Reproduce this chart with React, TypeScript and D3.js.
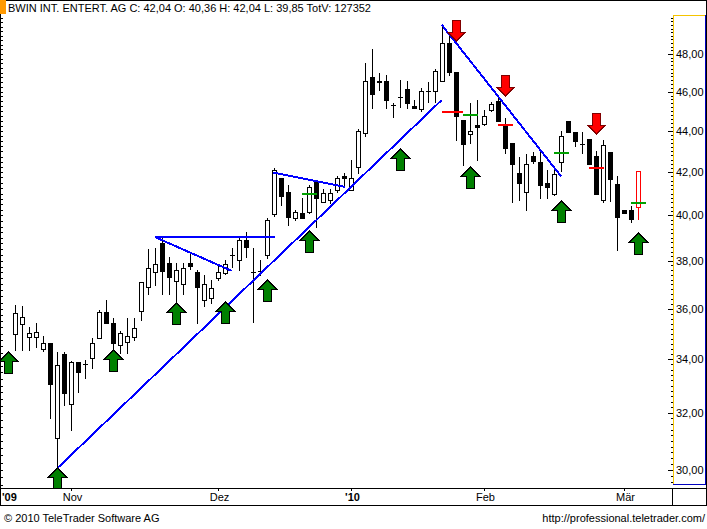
import React from "react";
import * as d3 from "d3";

// ---- DATA (daily OHLC, BWIN Int. Entert. AG, Oct 2009 - Mar 2010) ----
const opens = [
  34.98, 35.38, 34.86, 34.86, 34.39, 34.62, 31.1, 34.2, 32.32, 33.89,
  33.81, 34.04, 34.82, 35.86, 35.42, 34.55, 34.66, 34.86, 35.9, 36.89,
  37.52, 38.77, 37.9, 37.15, 37.02, 37.9, 37.52, 36.35, 36.43, 37.26,
  37.48, 38.25, 38.03, 38.9, 37.52, 37.57, 38.25, 40.06, 41.72, 41.07,
  39.88, 40.1, 40.15, 41.52, 40.61, 40.7, 41.16, 41.81, 41.16, 42.24,
  43.9, 46.77, 46.55, 46.56, 45.31, 45.73, 46.14, 45.26, 45.1, 46.05,
  46.03, 46.56, 48.6, 47.04, 44.55, 43.85, 44.3, 44.35, 45.06, 45.52,
  44.3, 43.4, 41.96, 41.07, 42.77, 42.49, 41.49, 40.98, 42.49, 44.5,
  43.94, 43.36, 43.6, 42.77, 40.7, 42.97, 41.44, 40.24, 40.24, 40.36,
];
const highs = [
  36.14, 36.1, 35.26, 35.42, 34.9, 34.62, 34.27, 34.27, 33.93, 33.89,
  33.97, 34.82, 35.94, 36.35, 35.62, 35.1, 35.62, 35.62, 37.1, 38.51,
  38.55, 39.03, 38.16, 37.9, 37.9, 38.33, 37.6, 37.39, 37.18, 37.82,
  38.03, 38.55, 38.99, 39.25, 38.55, 38.03, 39.88, 42.19, 41.72, 41.39,
  40.24, 40.79, 41.39, 41.58, 41.2, 41.2, 41.81, 41.96, 42.58, 44.12,
  47.52, 48.27, 46.98, 46.87, 45.42, 46.61, 46.56, 45.57, 46.19, 46.5,
  47.2, 49.5, 48.99, 47.04, 44.55, 45.42, 45.57, 45.06, 45.47, 45.67,
  44.65, 43.4, 42.72, 42.87, 42.97, 43.06, 42.1, 42.1, 43.98, 44.5,
  43.94, 43.94, 43.6, 43.02, 43.55, 42.97, 41.81, 40.24, 40.42, 42.04,
];
const lows = [
  34.35, 34.35, 34.35, 34.47, 34.31, 31.81, 30.05, 32.28, 31.38, 32.76,
  33.28, 33.66, 34.82, 35.42, 34.24, 34.24, 34.24, 34.74, 35.54, 36.6,
  36.97, 36.6, 36.6, 36.06, 36.6, 37.64, 35.42, 36.1, 36.22, 37.18,
  37.43, 37.73, 37.6, 38.16, 35.46, 37.39, 38.12, 39.97, 40.47, 39.56,
  39.79, 39.88, 40.1, 39.47, 40.61, 40.58, 41.07, 41.3, 41.16, 41.96,
  43.77, 45.16, 46.09, 45.16, 44.71, 45.21, 45.16, 45.16, 44.99, 45.47,
  45.47, 46.56, 46.87, 43.55, 42.34, 43.4, 42.58, 44.3, 45.0, 44.5,
  42.92, 40.61, 40.7, 40.24, 42.44, 40.79, 40.79, 40.93, 42.06, 43.94,
  43.27, 42.92, 42.39, 40.98, 40.61, 40.65, 38.46, 40.1, 39.7, 39.85,
];
const closes = [
  35.82, 35.66, 35.02, 35.06, 34.62, 33.06, 33.77, 32.72, 33.89, 33.51,
  33.81, 34.62, 35.86, 35.42, 34.62, 35.02, 34.9, 35.22, 37.1, 37.69,
  37.86, 37.57, 37.3, 37.6, 37.69, 37.78, 36.89, 37.02, 36.85, 37.52,
  37.86, 38.25, 38.9, 38.59, 37.52, 37.57, 39.79, 42.1, 40.88, 39.92,
  40.15, 39.88, 41.3, 40.79, 41.01, 41.03, 41.72, 41.72, 41.72, 44.0,
  46.56, 45.88, 46.5, 45.57, 45.31, 45.73, 45.42, 45.16, 46.03, 46.05,
  47.09, 48.6, 47.04, 44.75, 43.36, 44.0, 44.2, 44.77, 45.36, 44.5,
  43.16, 42.39, 41.49, 42.39, 42.53, 41.39, 41.3, 41.91, 43.73, 43.94,
  43.5, 43.36, 42.39, 40.98, 43.31, 41.67, 39.92, 40.1, 39.83, 42.04,
];

const monthLabels = ["Nov", "Dez", "'10", "Feb", "Mär"];
const monthStartIndex = [8, 29, 48, 67, 87];
const boldLabels = ["'10"];
const yearLabel = "'09";

const priceTicks = [30, 32, 34, 36, 38, 40, 42, 44, 46, 48];

const titleText =
  "BWIN INT. ENTERT. AG C: 42,04 O: 40,36 H: 42,04 L: 39,85 TotV: 127352";
const footerLeft = "© 2010 TeleTrader Software AG";
const footerRight = "http://professional.teletrader.com/";

// trend lines: [startIndex, startPrice, endIndex, endPrice]
const trendStartIndex = [6, 20, 20, 36.9, 60.96];
const trendStartPrice = [30.05, 39.03, 39.03, 41.98, 49.61];
const trendEndIndex = [60.96, 37.14, 30.95, 47.14, 78.0];
const trendEndPrice = [45.57, 39.03, 37.57, 41.31, 41.81];

// signal arrows (index, price at tip)
const upArrowIndex = [-1, 6, 14, 23, 30, 36, 42, 55, 65, 78, 89];
const upArrowPrice = [34.27, 30.06, 34.35, 36.22, 36.26, 37.18, 39.3, 43.11, 42.24, 40.65, 39.21];
const downArrowIndex = [63, 70, 83];
const downArrowPrice = [48.71, 45.77, 43.85];

// horizontal level marks
const greenFrom = [41, 64, 77, 88];
const greenTo = [43.14, 66.14, 79.14, 90.14];
const greenPrice = [40.98, 44.8, 42.92, 40.56];
const redFrom = [60.96, 69, 82];
const redTo = [64.04, 71.14, 84.14];
const redPrice = [44.96, 44.3, 42.21];

const FONT = "'Liberation Sans', Arial, Helvetica, sans-serif";

export default function App() {
  const W = 707;
  const H = 529;
  const plotRight = 673;
  const plotBottom = 488;
  const bandBottom = 505;

  const x = d3.scaleLinear().domain([0, 89]).range([15, 638]);
  const y = d3.scaleLog().domain([30, 48]).range([470, 54]);
  const px = (i: number) => Math.round(x(i));
  const py = (p: number) => Math.round(y(p));

  const fmt = (v: number) => v.toFixed(2).replace(".", ",");

  const minorTicks = d3
    .range(29.6, 50.4, 0.2)
    .filter((v) => y(v) > 16 && y(v) < 484);
  const leftTicks = d3
    .range(29.5, 50.5, 0.25)
    .filter((v) => y(v) > 16 && y(v) < 487);

  const candles = d3.range(opens.length).map((i) => ({
    i,
    o: opens[i],
    h: highs[i],
    l: lows[i],
    c: closes[i],
  }));
  const last = candles.length - 1;

  const upPath = (cx: number, ty: number) =>
    `M${cx + 0.5},${ty} L${cx + 9.5},${ty + 9} L${cx + 4.5},${ty + 9} L${cx + 4.5},${ty + 21} L${cx - 3.5},${ty + 21} L${cx - 3.5},${ty + 9} L${cx - 8.5},${ty + 9} Z`;
  const downPath = (cx: number, ty: number) =>
    `M${cx + 0.5},${ty} L${cx + 9.5},${ty - 9} L${cx + 4.5},${ty - 9} L${cx + 4.5},${ty - 21} L${cx - 3.5},${ty - 21} L${cx - 3.5},${ty - 9} L${cx - 8.5},${ty - 9} Z`;

  return (
    <svg
      width={W}
      height={H}
      style={{ position: "absolute", left: 0, top: 0, display: "block", background: "#fff" }}
      fontFamily={FONT}
    >
      <rect x={0} y={0} width={W} height={H} fill="#fff" />
      <defs>
        <clipPath id="plotClip">
          <rect x={1} y={1} width={plotRight - 1} height={plotBottom - 1} />
        </clipPath>
      </defs>

      {/* outer borders */}
      <line x1={0} x2={W} y1={0.5} y2={0.5} stroke="#000" />
      <line x1={706.5} x2={706.5} y1={0} y2={bandBottom} stroke="#000" />
      <line x1={0.5} x2={0.5} y1={0} y2={bandBottom} stroke="#000" />
      <line x1={0} x2={W} y1={plotBottom + 0.5} y2={plotBottom + 0.5} stroke="#000" />
      <line x1={0} x2={W} y1={bandBottom + 0.5} y2={bandBottom + 0.5} stroke="#000" />
      <line x1={plotRight - 0.5} x2={plotRight - 0.5} y1={plotBottom} y2={bandBottom} stroke="#000" />

      {/* title */}
      <rect x={0} y={0} width={6} height={14} fill="#ff9900" />
      <text x={8} y={12} fontSize={11} fill="#000">
        {titleText}
      </text>

      {/* left edge ticks */}
      {leftTicks.map((v, k) => (
        <line key={"lt" + k} x1={0} x2={3} y1={py(v) + 0.5} y2={py(v) + 0.5} stroke="#000" />
      ))}

      {/* right axis panel */}
      <line x1={plotRight + 0.5} x2={plotRight + 0.5} y1={15} y2={485} stroke="#f5c400" />
      <line x1={plotRight} x2={706} y1={15.5} y2={15.5} stroke="#f5c400" />
      <line x1={705.5} x2={705.5} y1={15} y2={485} stroke="#0000c0" />
      <line x1={plotRight} x2={706} y1={484.5} y2={484.5} stroke="#0000c0" />
      {minorTicks.map((v, k) => (
        <line key={"mt" + k} x1={671} x2={673} y1={py(v) + 0.5} y2={py(v) + 0.5} stroke="#000" />
      ))}
      {priceTicks.map((v) => (
        <g key={"pt" + v}>
          <line x1={668} x2={673} y1={py(v) + 0.5} y2={py(v) + 0.5} stroke="#000" />
          <text x={676} y={py(v) + 4} fontSize={11} fill="#000">
            {fmt(v)}
          </text>
        </g>
      ))}

      <g clipPath="url(#plotClip)" shapeRendering="crispEdges">
        {/* candles */}
        {candles.map((d) => {
          const cx = px(d.i);
          const top = py(Math.max(d.o, d.c));
          const bot = py(Math.min(d.o, d.c));
          const up = d.c >= d.o;
          const col = d.i === last ? "#ff0000" : "#000";
          return (
            <g key={"c" + d.i}>
              <line x1={cx + 0.5} x2={cx + 0.5} y1={py(d.h)} y2={py(d.l) + 1} stroke={col} />
              {bot - top < 1 ? (
                <line x1={cx - 2} x2={cx + 3} y1={top + 0.5} y2={top + 0.5} stroke={col} />
              ) : (
                <rect
                  x={cx - 1.5}
                  y={top + 0.5}
                  width={4}
                  height={bot - top}
                  fill={up ? "#fff" : col}
                  stroke={col}
                />
              )}
            </g>
          );
        })}

        {/* level marks */}
        {greenPrice.map((p, k) => (
          <rect
            key={"g" + k}
            x={x(greenFrom[k])}
            y={py(p) - 1}
            width={x(greenTo[k]) - x(greenFrom[k])}
            height={2}
            fill="#00a000"
          />
        ))}
        {redPrice.map((p, k) => (
          <rect
            key={"r" + k}
            x={x(redFrom[k])}
            y={py(p) - 1}
            width={x(redTo[k]) - x(redFrom[k])}
            height={2}
            fill="#ff0000"
          />
        ))}
      </g>

      <g clipPath="url(#plotClip)">
        {/* trend lines */}
        {trendStartIndex.map((i0, k) => (
          <line
            key={"t" + k}
            x1={x(i0)}
            y1={y(trendStartPrice[k])}
            x2={x(trendEndIndex[k])}
            y2={y(trendEndPrice[k])}
            stroke="#0000ff"
            strokeWidth={2}
            shapeRendering="crispEdges"
          />
        ))}

        {/* arrows */}
        {upArrowIndex.map((i, k) => (
          <path
            key={"ua" + k}
            d={upPath(px(i), py(upArrowPrice[k]))}
            fill="#008000"
            stroke="#000"
            strokeWidth={1}
            shapeRendering="crispEdges"
          />
        ))}
        {downArrowIndex.map((i, k) => (
          <path
            key={"da" + k}
            d={downPath(px(i), py(downArrowPrice[k]))}
            fill="#ff0000"
            stroke="#800000"
            strokeWidth={1}
            shapeRendering="crispEdges"
          />
        ))}
      </g>

      {/* x axis labels */}
      <text x={2} y={501} fontSize={11} fontWeight="bold" fill="#000">
        {yearLabel}
      </text>
      {monthLabels.map((m, k) => (
        <g key={"m" + k}>
          <line
            x1={px(monthStartIndex[k]) + 0.5}
            x2={px(monthStartIndex[k]) + 0.5}
            y1={plotBottom}
            y2={plotBottom + 3}
            stroke="#000"
          />
          <text
            x={px(monthStartIndex[k]) + 1.5}
            y={501}
            fontSize={11}
            textAnchor="middle"
            fontWeight={boldLabels.includes(m) ? "bold" : "normal"}
            fill="#000"
          >
            {m}
          </text>
        </g>
      ))}

      {/* footer */}
      <text x={4} y={522} fontSize={11} fill="#000">
        {footerLeft}
      </text>
      <text x={705} y={522} fontSize={11} textAnchor="end" fill="#000">
        {footerRight}
      </text>
    </svg>
  );
}
